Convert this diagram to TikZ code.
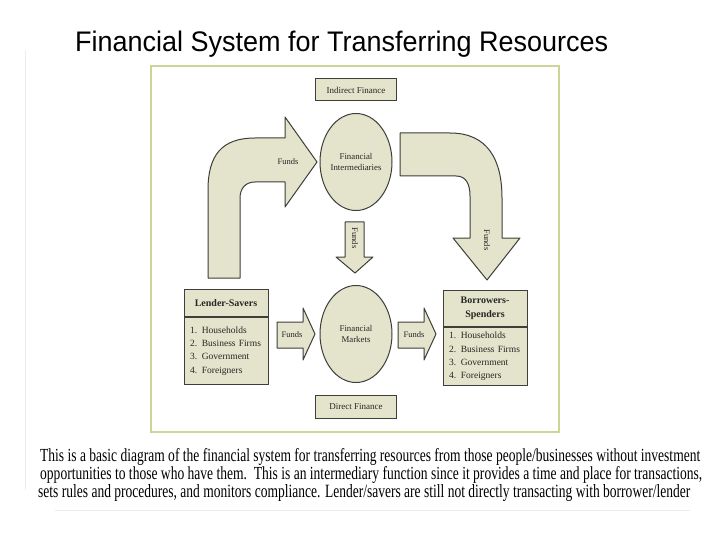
\documentclass[tikz,border=0pt]{standalone}
\usepackage{fontspec}
\setmainfont{Liberation Serif}
\newfontfamily\titlefont{Liberation Sans}
\usepackage{graphicx}
\usetikzlibrary{positioning,shapes.geometric}

\definecolor{khaki}{RGB}{228,228,204}
\definecolor{framegreen}{RGB}{206,212,150}
\definecolor{inkgray}{RGB}{62,62,58}

\begin{document}
\begin{tikzpicture}[x=1pt, y=-1pt,
    box/.style={rectangle, draw=inkgray, fill=khaki, line width=1pt, inner sep=0pt, align=center, text=black!85},
    headbox/.style={box, minimum width=84pt, font=\fontsize{10}{14.5}\selectfont\bfseries},
    listbox/.style={box, minimum width=84pt, text width=72pt, align=left, font=\fontsize{9.5}{13.3}\selectfont},
    oval/.style={ellipse, draw=inkgray, fill=khaki, line width=1pt, minimum width=72pt, minimum height=97pt, inner sep=0pt, align=center, text=black!85, font=\fontsize{8.8}{10.5}\selectfont},
    tag/.style={box, minimum width=81pt, minimum height=22pt, font=\fontsize{9}{10}\selectfont},
    bigarrow/.style={draw=inkgray, fill=khaki, line width=1pt, line join=round},
    fundlabel/.style={font=\fontsize{8.5}{9}\selectfont, text=black!85, inner sep=0pt}
]
    \useasboundingbox (0,0) rectangle (720,540);
    \draw[gray!15, line width=0.8pt] (25,50) -- (25,490);
    \draw[gray!15, line width=0.8pt] (55,510) -- (690,510);

    \node[anchor=base west, inner sep=0pt] (title) at (75,52)
        {\resizebox{533pt}{20.5pt}{\titlefont Financial System for Transferring Resources}};

    \draw[framegreen, line width=1.5pt, fill=white] (151,66) rectangle (559,432);

    % indirect route
    \node[tag] (indirect) at (356,90) {Indirect Finance};
    \draw[bigarrow] (208,278) -- (208,190) .. controls (208,155) and (222,138) .. (255,138)
        -- (285,138) -- (285,117) -- (317,162) -- (285,207) -- (285,182) -- (255,182)
        .. controls (246,182) and (240,188) .. (240,198) -- (240,278) -- cycle;
    \draw[bigarrow] (400,133) -- (450,133) .. controls (488,133) and (502,160) .. (502,198)
        -- (502,238) -- (520,238) -- (487,280) -- (453,238) -- (470,238) -- (470,196)
        .. controls (470,184) and (466,176) .. (456,176) -- (400,176) -- cycle;
    \draw[bigarrow] (345,222) -- (364,222) -- (364,257) -- (373,257) -- (355,273)
        -- (336,257) -- (345,257) -- cycle;
    \node[oval] (inter) at (356,162) {Financial\\Intermediaries};
    \node[fundlabel] (fundsup) at (288,162) {Funds};
    \node[fundlabel, rotate=-90] (fundsdown) at (487,240) {Funds};
    \node[fundlabel, rotate=-90] (fundsmid) at (355,238) {Funds};

    % direct route
    \node[headbox, minimum height=27pt, anchor=north] (lenderhead) at (226,289) {Lender-Savers};
    \node[listbox, minimum height=67pt, below=0pt of lenderhead] (lenderlist)
        {1. Households\\2. Business Firms\\3. Government\\4. Foreigners};
    \node[headbox, minimum height=36pt, anchor=north] (borrowhead) at (485,290) {Borrowers-\\Spenders};
    \node[listbox, minimum height=58pt, below=0pt of borrowhead] (borrowlist)
        {1. Households\\2. Business Firms\\3. Government\\4. Foreigners};
    \node[oval] (markets) at (356,334) {Financial\\Markets};
    \draw[bigarrow] (277,322) -- (303,322) -- (303,308) -- (315,334) -- (303,360)
        -- (303,348) -- (277,348) -- cycle;
    \draw[bigarrow] (398,322) -- (424,322) -- (424,308) -- (436,334) -- (424,360)
        -- (424,348) -- (398,348) -- cycle;
    \node[fundlabel] (fundsleft) at (292,335) {Funds};
    \node[fundlabel] (fundsright) at (414,335) {Funds};
    \node[tag, minimum height=23pt] (direct) at (356,406.5) {Direct Finance};

    \node[anchor=base west, inner sep=0pt] (line1) at (40,461)
        {\resizebox{660pt}{13pt}{This is a basic diagram of the financial system for transferring resources from those people/businesses without investment}};
    \node[anchor=base west, inner sep=0pt] (line2) at (40,479)
        {\resizebox{662pt}{13pt}{opportunities to those who have them.\ \ This is an intermediary function since it provides a time and place for transactions,}};
    \node[anchor=base west, inner sep=0pt] (line3) at (38,497)
        {\resizebox{652pt}{13pt}{sets rules and procedures, and monitors compliance. Lender/savers are still not directly transacting with borrower/lender}};
\end{tikzpicture}
\end{document}
